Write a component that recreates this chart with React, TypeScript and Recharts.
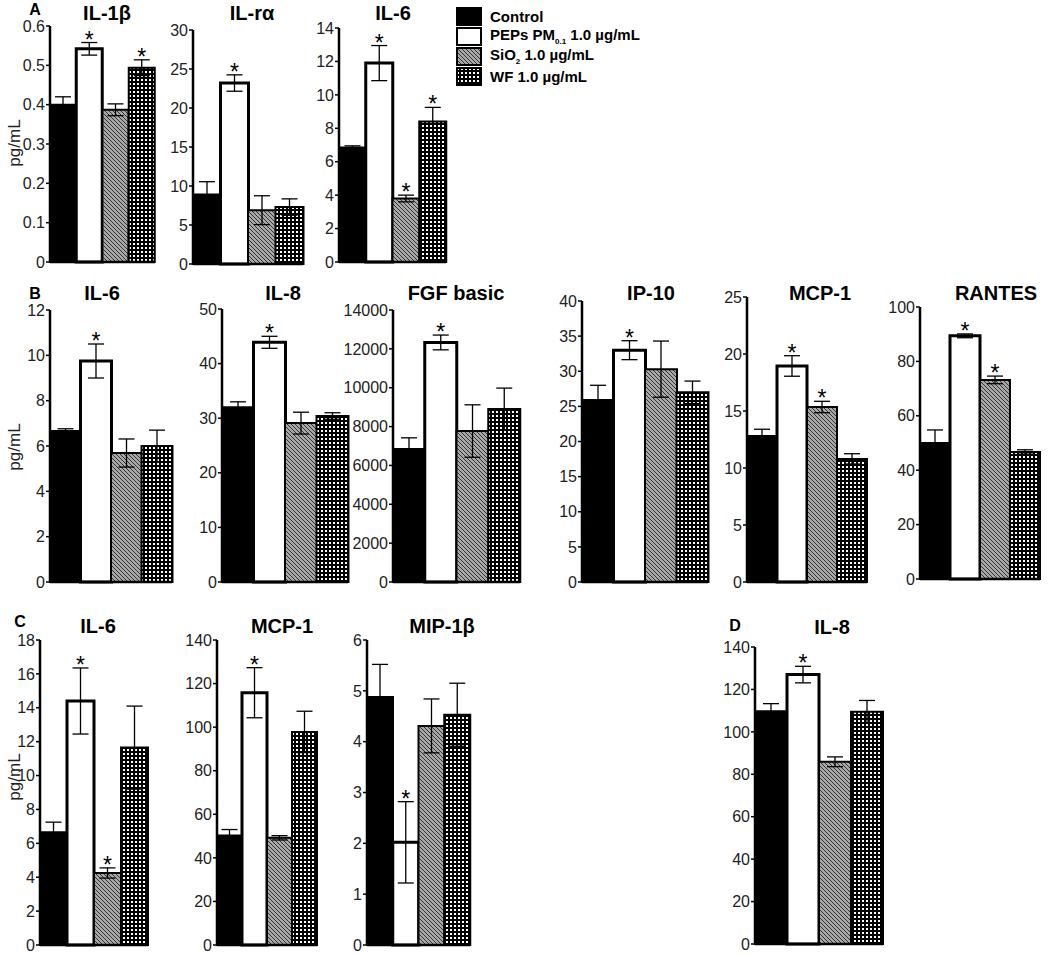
import { ComposedChart, Bar, Cell, XAxis, YAxis, ErrorBar, LabelList } from "recharts";

const font = "'Liberation Sans', Arial, sans-serif";

const groups = ["Control", "PEPs", "SiO2", "WF"];
const fills = ["#000", "#fff", "url(#hatch)", "url(#dots)"];

// A
const aIl1bMean = [0.4, 0.542, 0.387, 0.494];
const aIl1bErr = [0.02, 0.016, 0.015, 0.02];
const aIl1bStar = [false, true, false, true];
const aIl1bTicks = [0, 0.1, 0.2, 0.3, 0.4, 0.5, 0.6];

const aIlraMean = [8.9, 23.2, 6.9, 7.3];
const aIlraErr = [1.65, 1.05, 1.85, 1.05];
const aIlraStar = [false, true, false, false];
const aIlraTicks = [0, 5, 10, 15, 20, 25, 30];

const aIl6Mean = [6.85, 11.9, 3.8, 8.4];
const aIl6Err = [0.1, 1.05, 0.2, 0.85];
const aIl6Star = [false, true, true, true];
const aIl6Ticks = [0, 2, 4, 6, 8, 10, 12, 14];

// B
const bIl6Mean = [6.66, 9.75, 5.69, 6.0];
const bIl6Err = [0.1, 0.75, 0.62, 0.7];
const bIl6Star = [false, true, false, false];
const bIl6Ticks = [0, 2, 4, 6, 8, 10, 12];

const bIl8Mean = [32.0, 43.9, 29.1, 30.4];
const bIl8Err = [1.0, 1.1, 2.0, 0.6];
const bIl8Star = [false, true, false, false];
const bIl8Ticks = [0, 10, 20, 30, 40, 50];

const bFgfMean = [6840, 12330, 7770, 8900];
const bFgfErr = [580, 380, 1350, 1080];
const bFgfStar = [false, true, false, false];
const bFgfTicks = [0, 2000, 4000, 6000, 8000, 10000, 12000, 14000];

const bIp10Mean = [25.9, 33.0, 30.3, 27.0];
const bIp10Err = [2.1, 1.35, 4.0, 1.6];
const bIp10Star = [false, true, false, false];
const bIp10Ticks = [0, 5, 10, 15, 20, 25, 30, 35, 40];

const bMcp1Mean = [12.8, 18.95, 15.35, 10.8];
const bMcp1Err = [0.6, 0.9, 0.5, 0.45];
const bMcp1Star = [false, true, true, false];
const bMcp1Ticks = [0, 5, 10, 15, 20, 25];

const bRantesMean = [50.0, 89.4, 73.2, 46.7];
const bRantesErr = [4.8, 0.7, 1.4, 0.8];
const bRantesStar = [false, true, true, false];
const bRantesTicks = [0, 20, 40, 60, 80, 100];

// C
const cIl6Mean = [6.65, 14.4, 4.25, 11.65];
const cIl6Err = [0.6, 1.95, 0.3, 2.45];
const cIl6Star = [false, true, true, false];
const cIl6Ticks = [0, 2, 4, 6, 8, 10, 12, 14, 16, 18];

const cMcp1Mean = [50.3, 115.8, 49.2, 97.8];
const cMcp1Err = [2.7, 11.5, 1.0, 9.5];
const cMcp1Star = [false, true, false, false];
const cMcp1Ticks = [0, 20, 40, 60, 80, 100, 120, 140];

const cMip1bMean = [4.88, 2.02, 4.31, 4.53];
const cMip1bErr = [0.64, 0.8, 0.53, 0.62];
const cMip1bStar = [false, true, false, false];
const cMip1bTicks = [0, 1, 2, 3, 4, 5, 6];

// D
const dIl8Mean = [109.7, 127.0, 85.9, 109.5];
const dIl8Err = [3.6, 3.9, 2.3, 5.3];
const dIl8Star = [false, true, false, false];
const dIl8Ticks = [0, 20, 40, 60, 80, 100, 120, 140];

type Row = { group: string; value: number; err: number; star: boolean };

const starLabel = (rows: Row[]) => (props: any) => {
  const vb = props.viewBox && props.viewBox.width != null ? props.viewBox : props;
  const r = rows[props.index];
  if (!r || !r.star || !vb || !r.value) return null;
  const pxPerUnit = vb.height / r.value;
  const yTop = vb.y - r.err * pxPerUnit;
  return (
    <text x={vb.x + vb.width / 2} y={yTop + 5} textAnchor="middle" fontSize={23} fontFamily={font} fill="#000">
      *
    </text>
  );
};

type PanelProps = {
  title: string;
  titleX: number;
  titleY: number;
  means: number[];
  errs: number[];
  stars: boolean[];
  ticks: number[];
  axisX: number;
  top: number;
  bottom: number;
  right: number;
};

function Panel({ title, titleX, titleY, means, errs, stars, ticks, axisX, top, bottom, right }: PanelProps) {
  const rows: Row[] = groups.map((g, i) => ({ group: g, value: means[i], err: errs[i], star: stars[i] }));
  const mTop = 12;
  const mBottom = 8;
  const yw = 50;
  const width = right - axisX + yw + 3;
  const height = bottom - top + mTop + mBottom + 1;
  return (
    <>
      <div
        style={{
          position: "absolute",
          left: titleX,
          top: titleY,
          transform: "translate(-50%, -50%)",
          fontFamily: font,
          fontWeight: "bold",
          fontSize: 20,
          lineHeight: 1,
          whiteSpace: "nowrap",
        }}
      >
        {title}
      </div>
      <div style={{ position: "absolute", left: axisX - yw, top: top - mTop }}>
        <ComposedChart
          width={width}
          height={height}
          data={rows}
          margin={{ top: mTop, right: 3, bottom: mBottom, left: 0 }}
          barCategoryGap={0}
          barGap={0}
        >
          <XAxis
            dataKey="group"
            type="category"
            tick={false}
            tickLine={false}
            height={1}
            axisLine={{ stroke: "#000", strokeWidth: 2.5 }}
          />
          <YAxis
            width={yw}
            type="number"
            domain={[0, ticks[ticks.length - 1]]}
            ticks={ticks}
            interval={0}
            tickSize={4}
            tickMargin={1}
            axisLine={{ stroke: "#000", strokeWidth: 2.5 }}
            tickLine={{ stroke: "#000", strokeWidth: 1.5 }}
            tick={{ fill: "#222", fontSize: 16, fontFamily: font }}
          />
          <Bar dataKey="value" stroke="#000" strokeWidth={2} isAnimationActive={false}>
            {rows.map((r, i) => (
              <Cell key={r.group} fill={fills[i]} strokeWidth={i === 1 ? 3 : 2} />
            ))}
            <ErrorBar dataKey="err" width={8} stroke="#000" strokeWidth={1.3} />
            <LabelList dataKey="value" content={starLabel(rows)} />
          </Bar>
        </ComposedChart>
      </div>
    </>
  );
}

function Letter({ x, y, text }: { x: number; y: number; text: string }) {
  return (
    <div
      style={{
        position: "absolute",
        left: x,
        top: y,
        transform: "translate(-50%, -50%)",
        fontFamily: font,
        fontWeight: "bold",
        fontSize: 16,
        lineHeight: 1,
      }}
    >
      {text}
    </div>
  );
}

function Unit({ x, y }: { x: number; y: number }) {
  return (
    <div
      style={{
        position: "absolute",
        left: x,
        top: y,
        transform: "translate(-50%, -50%) rotate(-90deg)",
        fontFamily: font,
        fontSize: 17,
        lineHeight: 1,
        whiteSpace: "nowrap",
        color: "#222",
      }}
    >
      pg/mL
    </div>
  );
}

const legendItems = [
  { fill: "#000", label: <>Control</> },
  {
    fill: "#fff",
    label: (
      <>
        PEPs PM<sub style={{ fontSize: 8 }}>0.1</sub> 1.0 µg/mL
      </>
    ),
  },
  {
    fill: "url(#hatch)",
    label: (
      <>
        SiO<sub style={{ fontSize: 8 }}>2</sub> 1.0 µg/mL
      </>
    ),
  },
  { fill: "url(#dots)", label: <>WF 1.0 µg/mL</> },
];

function Legend() {
  return (
    <div style={{ position: "absolute", left: 456, top: 6 }}>
      {legendItems.map((it, i) => (
        <div key={i} style={{ display: "flex", alignItems: "center", height: 20 }}>
          <svg width={26} height={19}>
            <rect x={1} y={1} width={24} height={17} fill={it.fill} stroke="#000" strokeWidth={2} />
          </svg>
          <span style={{ marginLeft: 8, fontFamily: font, fontWeight: "bold", fontSize: 15, lineHeight: 1 }}>
            {it.label}
          </span>
        </div>
      ))}
    </div>
  );
}

export default function App() {
  return (
    <div style={{ position: "absolute", left: 0, top: 0, width: 1050, height: 954, background: "#fff", overflow: "hidden" }}>
      <svg width={0} height={0} style={{ position: "absolute" }}>
        <defs>
          <pattern id="hatch" patternUnits="userSpaceOnUse" width={4} height={4}>
            <rect width={4} height={4} fill="#a8a8a8" />
            <path d="M-1,3 l2,2 M0,0 l4,4 M3,-1 l2,2" stroke="#333" strokeWidth={1} />
          </pattern>
          <pattern id="dots" patternUnits="userSpaceOnUse" width={4} height={4}>
            <rect width={4} height={4} fill="#000" />
            <rect x={1} y={1} width={2} height={2} fill="#fff" />
          </pattern>
        </defs>
      </svg>

      <Letter x={35} y={10} text="A" />
      <Letter x={35} y={294} text="B" />
      <Letter x={20} y={622} text="C" />
      <Letter x={735} y={626} text="D" />

      <Unit x={14} y={143} />
      <Unit x={14} y={447} />
      <Unit x={14} y={777} />

      <Legend />

      <Panel title="IL-1β" titleX={107} titleY={13} means={aIl1bMean} errs={aIl1bErr} stars={aIl1bStar} ticks={aIl1bTicks} axisX={50} top={26} bottom={262} right={155} />
      <Panel title="IL-rα" titleX={252} titleY={13} means={aIlraMean} errs={aIlraErr} stars={aIlraStar} ticks={aIlraTicks} axisX={193} top={30} bottom={264} right={303} />
      <Panel title="IL-6" titleX={393} titleY={13} means={aIl6Mean} errs={aIl6Err} stars={aIl6Star} ticks={aIl6Ticks} axisX={339} top={28} bottom={262} right={446} />

      <Panel title="IL-6" titleX={102} titleY={293} means={bIl6Mean} errs={bIl6Err} stars={bIl6Star} ticks={bIl6Ticks} axisX={50} top={310} bottom={582} right={172} />
      <Panel title="IL-8" titleX={283} titleY={293} means={bIl8Mean} errs={bIl8Err} stars={bIl8Star} ticks={bIl8Ticks} axisX={222} top={309} bottom={582} right={348} />
      <Panel title="FGF basic" titleX={456} titleY={293} means={bFgfMean} errs={bFgfErr} stars={bFgfStar} ticks={bFgfTicks} axisX={393} top={310} bottom={582} right={520} />
      <Panel title="IP-10" titleX={651} titleY={293} means={bIp10Mean} errs={bIp10Err} stars={bIp10Star} ticks={bIp10Ticks} axisX={582} top={301} bottom={582} right={708} />
      <Panel title="MCP-1" titleX={820} titleY={293} means={bMcp1Mean} errs={bMcp1Err} stars={bMcp1Star} ticks={bMcp1Ticks} axisX={747} top={297} bottom={582} right={867} />
      <Panel title="RANTES" titleX={996} titleY={293} means={bRantesMean} errs={bRantesErr} stars={bRantesStar} ticks={bRantesTicks} axisX={920} top={307} bottom={579} right={1040} />

      <Panel title="IL-6" titleX={98} titleY={626} means={cIl6Mean} errs={cIl6Err} stars={cIl6Star} ticks={cIl6Ticks} axisX={40} top={640} bottom={945} right={148} />
      <Panel title="MCP-1" titleX={282} titleY={626} means={cMcp1Mean} errs={cMcp1Err} stars={cMcp1Star} ticks={cMcp1Ticks} axisX={217} top={640} bottom={945} right={317} />
      <Panel title="MIP-1β" titleX={442} titleY={626} means={cMip1bMean} errs={cMip1bErr} stars={cMip1bStar} ticks={cMip1bTicks} axisX={367} top={640} bottom={945} right={470} />

      <Panel title="IL-8" titleX={832} titleY={627} means={dIl8Mean} errs={dIl8Err} stars={dIl8Star} ticks={dIl8Ticks} axisX={755} top={647} bottom={944} right={883} />
    </div>
  );
}
